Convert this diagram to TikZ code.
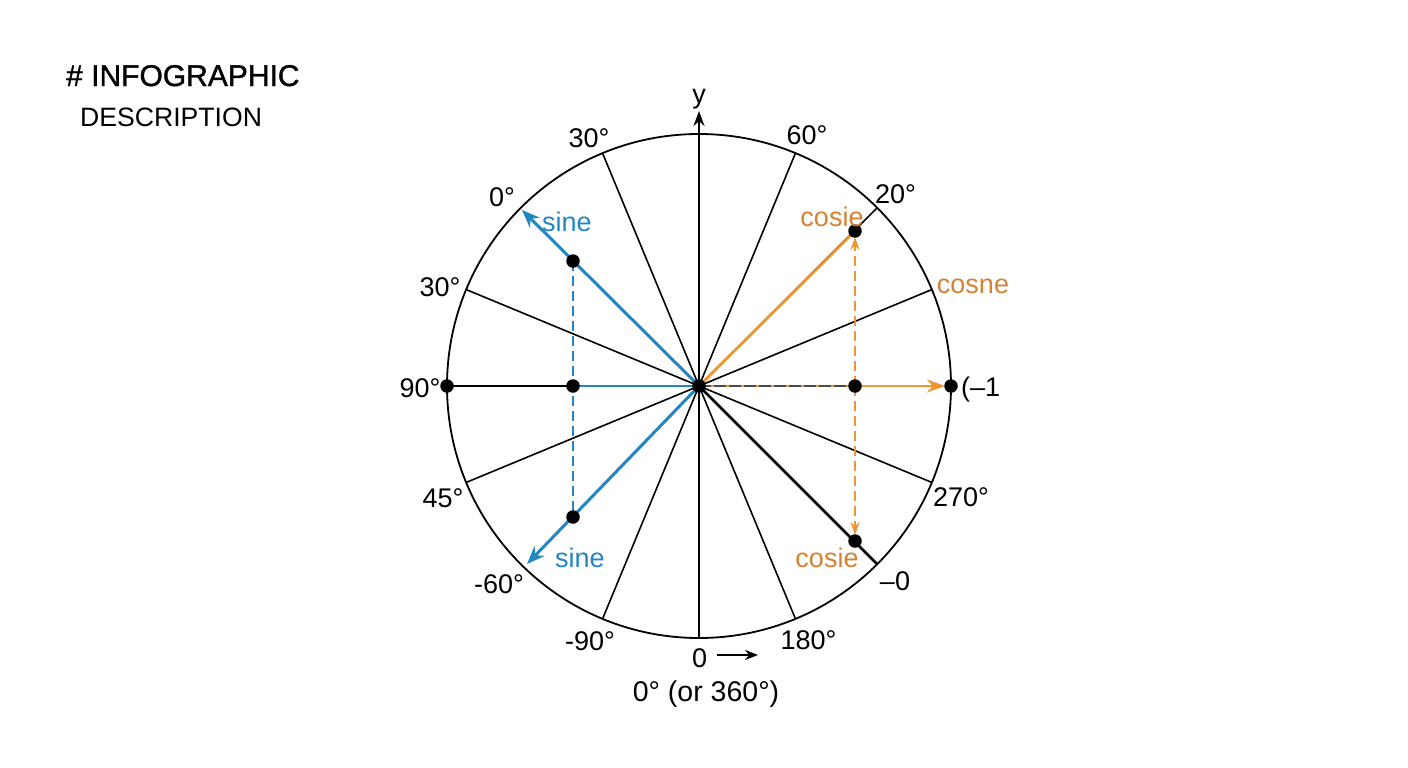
\documentclass[tikz,border=0pt]{standalone}
\usepackage{fontspec}
\setmainfont{Liberation Sans}
\newfontfamily\titlefont[FakeBold=1.2]{Liberation Sans}
\usetikzlibrary{arrows.meta}
\definecolor{sblue}{RGB}{34,134,194}
\definecolor{sorange}{RGB}{238,150,50}
\definecolor{torange}{RGB}{214,130,50}
\begin{document}
\begin{tikzpicture}[x=1pt,y=-1pt,
  lbl/.style={anchor=base, inner sep=0pt, font=\fontsize{27}{31}\selectfont},
  olbl/.style={lbl, text=torange},
  blbl/.style={lbl, text=sblue},
  dotn/.style={circle, fill=black, inner sep=0pt, minimum size=13.5pt},
  spoke/.style={line width=1.6pt, black},
  thick line/.style={line width=2.8pt, black},
  bluearr/.style={line width=3pt, sblue, -{Stealth[length=18pt,width=14pt]}},
  orangeln/.style={line width=2.8pt, sorange},
  odash/.style={line width=2.6pt, sorange, dash pattern=on 10pt off 5pt, -{Stealth[length=13pt,width=9pt]}},
  bdash/.style={line width=2.6pt, sblue, dash pattern=on 10pt off 5pt}]
\useasboundingbox (0,0) rectangle (1408,768);
\fill[white] (0,0) rectangle (1408,768);
% title
\node[anchor=base west, inner sep=0pt, font=\titlefont\fontsize{30}{36}\selectfont] (t1) at (66,86) {\# INFOGRAPHIC};
\node[anchor=base west, inner sep=0pt, font=\fontsize{26.6}{32}\selectfont] (t2) at (80,126) {DESCRIPTION};
% geometry
\coordinate (O) at (699,386);
\foreach \i in {0,...,15} {\path (O) ++(-\i*22.5:252) coordinate (r\i);}
\coordinate (bH) at (573,386);
\coordinate (bU) at (573,261);
\coordinate (bD) at (573,517);
\coordinate (bT1) at (522,210);
\coordinate (bT2) at (527,564);
\coordinate (oH) at (855,386);
\coordinate (oU) at (855,231);
\coordinate (oD) at (855,541);
\coordinate (yt) at (699,111);
% circle
\draw[line width=1.8pt] (O) circle[radius=252];
% spokes
\foreach \i in {1,2,3,5,7,9,11,13,15} {\draw[spoke] (O) -- (r\i);}
\draw[thick line] (O) -- (r14);
\draw[line width=2.4pt, -{Stealth[length=15pt,width=11pt]}] (r12) -- (yt);
\draw[thick line] (r8) -- (bH);
% blue parts
\draw[line width=2.8pt, sblue] (bH) -- (O);
\draw[bluearr] (O) -- (bT1);
\draw[bluearr] (O) -- (bT2);
\draw[bdash] (bU) -- (bD);
% orange parts
\draw[orangeln] (O) -- (oU);
\draw[orangeln] (O) -- (oH);
\draw[line width=1.5pt, black!70, dash pattern=on 12pt off 3pt] (O) -- (oH);
\draw[line width=2.8pt, sorange, -{Stealth[length=18pt,width=13pt]}, shorten >=6pt] (oH) -- (r0);
\draw[odash, shorten >=6pt] (oH) -- (oU);
\draw[odash, shorten >=6pt] (oH) -- (oD);
% dots
\foreach \c in {O,bH,bU,bD,oH,oU,oD,r0,r8} {\node[dotn] at (\c) {};}
% labels
\node[lbl] (ly) at (699,103) {y};
\node[lbl] (l30a) at (589,147) {30°};
\node[lbl] (l0) at (502,206) {0°};
\node[blbl] (ls1) at (567,231) {sine};
\node[lbl] (l30b) at (440,296) {30°};
\node[lbl] (l90) at (420,397) {90°};
\node[lbl] (l45) at (443,507) {45°};
\node[blbl] (ls2) at (580,567) {sine};
\node[lbl] (l60n) at (499,593) {-60°};
\node[lbl] (l90n) at (590,650) {-90°};
\node[lbl] (lz) at (699.5,667) {0};
\coordinate (za) at (717,655);
\coordinate (zb) at (758,655);
\draw[line width=1.8pt, -{Stealth[length=13pt,width=10pt]}] (za) -- (zb);
\node[lbl, font=\fontsize{28.5}{33}\selectfont] (l360) at (706,701) {0° (or 360°)};
\node[lbl] (l180) at (808.5,649) {180°};
\node[lbl] (lm0) at (895,590) {–0};
\node[olbl] (lc2) at (827,567) {cosie};
\node[lbl] (l270) at (961,506) {270°};
\node[lbl, anchor=base west] (lm1) at (961,396) {(–1};
\node[olbl] (lcn) at (973,293) {cosne};
\node[olbl] (lc1) at (832,226) {cosie};
\node[lbl] (l20) at (895.5,203) {20°};
\node[lbl] (l60) at (807,144) {60°};
\end{tikzpicture}
\end{document}
